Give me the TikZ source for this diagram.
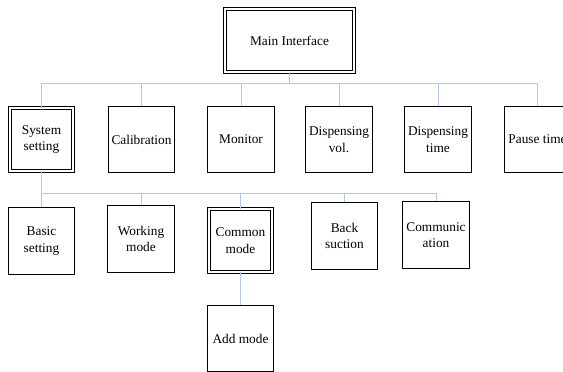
\documentclass[tikz,border=0pt]{standalone}
\usepackage{fontspec}
\setmainfont{Liberation Serif}
\usepackage{xcolor}
\usetikzlibrary{positioning}
\definecolor{linkblue}{RGB}{180,199,231}

\begin{document}
\begin{tikzpicture}[%Menu tree
  x=0.75pt, y=-0.75pt,
  boxnode/.style={rectangle, draw=black, line width=0.9pt, minimum width=50pt, minimum height=50pt, inner sep=1pt, align=center, font=\fontsize{10}{12.5}\selectfont},
  dboxnode/.style={boxnode, double, line width=0.8pt, double distance=1.5pt, minimum width=47pt, minimum height=47pt},
  link/.style={draw=linkblue, line width=0.75pt}
]
\useasboundingbox (0,0) rectangle (563,371);

%Nodes level 1
\node[dboxnode, minimum width=97pt] (main) at (289.5,40.5) {Main Interface};

%Nodes level 2
\node[dboxnode] (sys)   at (41.5,139.5) {System\\setting};
\node[boxnode]  (cal)   at (141.5,139.5) {Calibration};
\node[boxnode]  (mon)   at (241,139.5) {Monitor};
\node[boxnode]  (vol)   at (339,139.5) {Dispensing\\vol.};
\node[boxnode]  (dtime) at (438,139.5) {Dispensing\\time};
\node[boxnode]  (pause) at (537.5,139.5) {Pause time};

%Nodes level 3
\node[boxnode]  (basic) at (41.5,241) {Basic\\setting};
\node[boxnode]  (work)  at (141,239) {Working\\mode};
\node[dboxnode] (comm)  at (240.5,240.5) {Common\\mode};
\node[boxnode]  (back)  at (344.5,236) {Back\\suction};
\node[boxnode]  (com)   at (436,235) {Communic\\ation};

%Nodes level 4
\node[boxnode]  (add)   at (240.5,338.5) {Add mode};

%Lines
\foreach \child in {sys,cal,mon,vol,dtime,pause}
  \draw[link] (main.south) -- ++(0,11) -| (\child.north);
\foreach \child in {basic,work,comm,back,com}
  \draw[link] (sys.south) -- ++(0,22) -| (\child.north);
\draw[link] (comm) -- (add);
\end{tikzpicture}
\end{document}
